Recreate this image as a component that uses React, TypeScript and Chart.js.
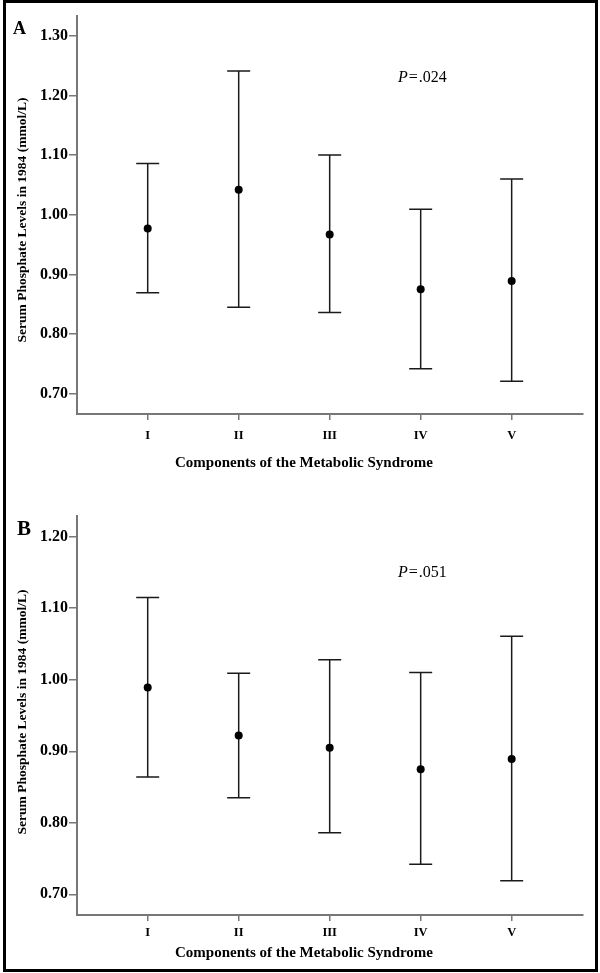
import React, { useEffect, useRef } from 'react';
import { Chart, registerables } from 'chart.js';

Chart.register(...registerables);

const FONT = '"Liberation Serif", "Times New Roman", Times, serif';

const categories = ['I', 'II', 'III', 'IV', 'V'];
const categoryPositions = [1, 2, 3, 4, 5];

const yTicksA = [0.7, 0.8, 0.9, 1.0, 1.1, 1.2, 1.3];
const meanA = [0.977, 1.042, 0.967, 0.875, 0.889];
const upperA = [1.086, 1.241, 1.1, 1.009, 1.06];
const lowerA = [0.869, 0.845, 0.836, 0.742, 0.721];
const pValueA = '.024';

const yTicksB = [0.7, 0.8, 0.9, 1.0, 1.1, 1.2];
const meanB = [0.989, 0.922, 0.905, 0.875, 0.889];
const upperB = [1.115, 1.009, 1.028, 1.01, 1.061];
const lowerB = [0.864, 0.835, 0.786, 0.742, 0.719];
const pValueB = '.051';

const yTitle = 'Serum Phosphate Levels in 1984 (mmol/L)';
const xTitle = 'Components of the Metabolic Syndrome';

type Panel = {
  letter: string;
  letterSize: number;
  letterX: number;
  letterY: number;
  yTicks: number[];
  yMin: number;
  yMax: number;
  mean: number[];
  upper: number[];
  lower: number[];
  pValue: string;
  pX: number;
  pY: number;
  top: number;
  xAxisHeight: number;
  xPad: number;
  xTitleY: number;
  yTitleY: number;
};

const panelA: Panel = {
  letter: 'A', letterSize: 18, letterX: 13, letterY: 34,
  yTicks: yTicksA, yMin: 0.666, yMax: 1.333,
  mean: meanA, upper: upperA, lower: lowerA,
  pValue: pValueA, pX: 398, pY: 82,
  top: 16, xAxisHeight: 72, xPad: 8, xTitleY: 467, yTitleY: 220,
};

const panelB: Panel = {
  letter: 'B', letterSize: 21, letterX: 17, letterY: 49,
  yTicks: yTicksB, yMin: 0.671, yMax: 1.229,
  mean: meanB, upper: upperB, lower: lowerB,
  pValue: pValueB, pX: 398, pY: 91,
  top: 30, xAxisHeight: 58, xPad: 4, xTitleY: 471, yTitleY: 226,
};

function makeChart(canvas: HTMLCanvasElement, p: Panel) {
  const errorBars = {
    id: 'errorBars',
    beforeDatasetsDraw(chart: any) {
      const ctx = chart.ctx;
      const xs = chart.scales.x;
      const ys = chart.scales.y;
      ctx.save();
      ctx.strokeStyle = '#1a1a1a';
      ctx.lineWidth = 1.5;
      categoryPositions.forEach((pos, i) => {
        const x = xs.getPixelForValue(pos);
        const yT = ys.getPixelForValue(p.upper[i]);
        const yB = ys.getPixelForValue(p.lower[i]);
        const half = 11.5;
        ctx.beginPath();
        ctx.moveTo(x, yT);
        ctx.lineTo(x, yB);
        ctx.moveTo(x - half, yT);
        ctx.lineTo(x + half, yT);
        ctx.moveTo(x - half, yB);
        ctx.lineTo(x + half, yB);
        ctx.stroke();
      });
      ctx.restore();
    },
  };

  const texts = {
    id: 'texts',
    afterDraw(chart: any) {
      const ctx = chart.ctx;
      ctx.save();
      ctx.fillStyle = '#000';
      ctx.font = `bold ${p.letterSize}px ${FONT}`;
      ctx.textAlign = 'left';
      ctx.textBaseline = 'alphabetic';
      ctx.fillText(p.letter, p.letterX, p.letterY);
      ctx.font = `bold 15px ${FONT}`;
      ctx.textAlign = 'center';
      ctx.fillText(xTitle, 304, p.xTitleY);
      ctx.save();
      ctx.translate(26, p.yTitleY);
      ctx.rotate(-Math.PI / 2);
      ctx.font = `bold 13.5px ${FONT}`;
      ctx.textAlign = 'center';
      ctx.fillText(yTitle, 0, 0);
      ctx.restore();
      ctx.textAlign = 'left';
      ctx.font = `italic 16px ${FONT}`;
      ctx.fillText('P', p.pX, p.pY);
      const w1 = ctx.measureText('P').width;
      ctx.font = `16px ${FONT}`;
      ctx.fillText('=', p.pX + w1 + 1, p.pY);
      const w2 = ctx.measureText('=').width;
      ctx.fillText(p.pValue, p.pX + w1 + 1 + w2 + 1, p.pY);
      ctx.restore();
    },
  };

  return new Chart(canvas, {
    type: 'scatter',
    data: {
      datasets: [
        {
          data: categoryPositions.map((x, i) => ({ x, y: p.mean[i] })),
          pointRadius: 4,
          pointHoverRadius: 4,
          backgroundColor: '#000',
          borderColor: '#000',
          borderWidth: 0,
          showLine: false,
        },
      ],
    },
    options: {
      responsive: false,
      animation: false,
      events: [],
      layout: { padding: { left: 0, right: 17, top: p.top, bottom: 0 } },
      plugins: {
        legend: { display: false },
        tooltip: { enabled: false },
        title: { display: false },
      },
      scales: {
        x: {
          type: 'linear',
          min: 0.223,
          max: 5.784,
          afterBuildTicks: (s: any) => {
            s.ticks = categoryPositions.map((v) => ({ value: v }));
          },
          afterFit: (s: any) => {
            s.height = p.xAxisHeight;
          },
          ticks: {
            autoSkip: false,
            maxRotation: 0,
            padding: p.xPad,
            color: '#000',
            font: { family: FONT, size: 12.5, weight: 'bold' },
            callback: (_v: any, i: number) => categories[i] ?? '',
          },
          grid: {
            drawOnChartArea: false,
            drawTicks: true,
            tickLength: 6,
            color: '#777',
            lineWidth: 1.5,
          },
          border: { display: true, color: '#777', width: 2 },
        },
        y: {
          type: 'linear',
          min: p.yMin,
          max: p.yMax,
          afterBuildTicks: (s: any) => {
            s.ticks = p.yTicks.map((v) => ({ value: v }));
          },
          afterFit: (s: any) => {
            s.width = 77;
          },
          ticks: {
            padding: 1,
            color: '#000',
            font: { family: FONT, size: 16, weight: 'bold' },
            callback: (v: any) => Number(v).toFixed(2),
          },
          grid: {
            drawOnChartArea: false,
            drawTicks: true,
            tickLength: 8,
            color: '#777',
            lineWidth: 1.5,
          },
          border: { display: true, color: '#777', width: 2 },
        },
      },
    } as any,
    plugins: [errorBars, texts],
  });
}

export default function App() {
  const refA = useRef<HTMLCanvasElement | null>(null);
  const refB = useRef<HTMLCanvasElement | null>(null);

  useEffect(() => {
    const a = refA.current ? makeChart(refA.current, panelA) : null;
    const b = refB.current ? makeChart(refB.current, panelB) : null;
    return () => {
      a?.destroy();
      b?.destroy();
    };
  }, []);

  return (
    <div
      style={{
        position: 'absolute',
        left: 0,
        top: 0,
        width: 600,
        height: 973,
        background: '#fff',
        overflow: 'hidden',
      }}
    >
      <canvas
        ref={refA}
        width={600}
        height={486}
        style={{ position: 'absolute', left: 0, top: 0, width: 600, height: 486 }}
      />
      <canvas
        ref={refB}
        width={600}
        height={487}
        style={{ position: 'absolute', left: 0, top: 486, width: 600, height: 487 }}
      />
      <div
        style={{
          position: 'absolute',
          left: 3,
          top: 0,
          width: 595,
          height: 972,
          border: '3px solid #000',
          boxSizing: 'border-box',
          pointerEvents: 'none',
        }}
      />
    </div>
  );
}
